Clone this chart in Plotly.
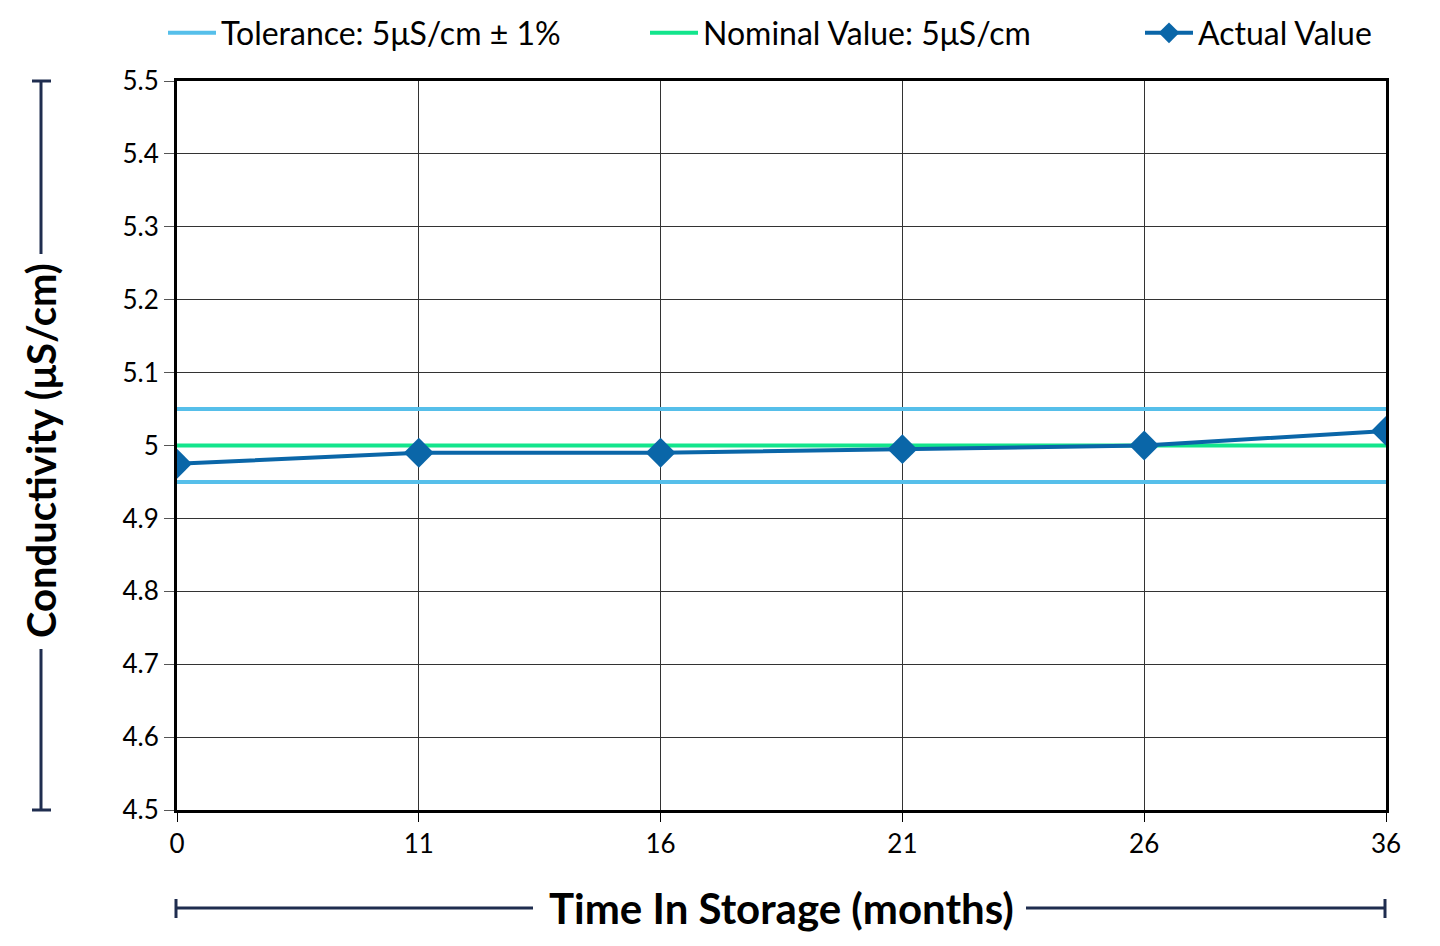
import plotly.graph_objects as go

# ---- data ----
months = ["0", "11", "16", "21", "26", "36"]
actual_values = [4.975, 4.99, 4.99, 4.995, 5.0, 5.02]
nominal_value = 5.0
tolerance_upper = 5.05
tolerance_lower = 4.95
y_ticks = [4.5, 4.6, 4.7, 4.8, 4.9, 5.0, 5.1, 5.2, 5.3, 5.4, 5.5]
y_tick_labels = ["4.5", "4.6", "4.7", "4.8", "4.9", "5", "5.1", "5.2", "5.3", "5.4", "5.5"]

xpos = list(range(len(months)))
x_first, x_last = xpos[0], xpos[-1]

FONT = "Lato"
NAVY = "#1F2D4F"

# plot-area pixel geometry
L, R, T, B = 177, 1386, 81, 810
pw = R - L
ph = B - T
def xp(px):
    return (px - L) / pw
def yp(py):
    return (B - py) / ph

fig = go.Figure()
fig.add_trace(go.Scatter(
    x=[x_first, x_last, None, x_first, x_last],
    y=[tolerance_upper, tolerance_upper, None, tolerance_lower, tolerance_lower],
    mode="lines", line=dict(color="#56BFEA", width=4),
    name="Tolerance: 5μS/cm ± 1%", legend="legend"))
fig.add_trace(go.Scatter(
    x=[x_first, x_last], y=[nominal_value, nominal_value],
    mode="lines", line=dict(color="#12E58C", width=4),
    name="Nominal Value: 5μS/cm", legend="legend2"))
fig.add_trace(go.Scatter(
    x=xpos, y=actual_values, mode="lines+markers",
    line=dict(color="#0A66A8", width=4),
    marker=dict(symbol="diamond", size=23, color="#0A66A8"),
    name="Actual Value", legend="legend3"))

leg_common = dict(orientation="h", yanchor="middle", xanchor="left",
                  font=dict(size=32, family=FONT, color="black"),
                  itemwidth=48, bgcolor="rgba(0,0,0,0)", borderwidth=0)

fig.update_layout(
    width=1440, height=946,
    margin=dict(l=L, r=1440 - R, t=T, b=946 - B, autoexpand=False),
    paper_bgcolor="white", plot_bgcolor="white",
    font=dict(family=FONT, color="black"),
    showlegend=True,
    legend=dict(x=xp(163), y=yp(33), **leg_common),
    legend2=dict(x=xp(645), y=yp(33), **leg_common),
    legend3=dict(x=xp(1140), y=yp(33), **leg_common),
)

fig.update_xaxes(
    range=[x_first, x_last], tickvals=xpos, ticktext=months,
    showgrid=True, gridcolor="#333333", gridwidth=1,
    showline=True, linecolor="black", linewidth=3, mirror=True,
    ticks="outside", ticklen=9, tickcolor="black", tickwidth=1,
    tickfont=dict(size=26, family=FONT, color="black"), zeroline=False)
fig.update_yaxes(
    range=[y_ticks[0], y_ticks[-1]], tickvals=y_ticks, ticktext=y_tick_labels,
    showgrid=True, gridcolor="#333333", gridwidth=1,
    showline=True, linecolor="black", linewidth=3, mirror=True,
    ticks="outside", ticklen=10, tickcolor="#555555", tickwidth=1,
    tickfont=dict(size=26, family=FONT, color="black"), zeroline=False)

fig.add_annotation(text="<b>Conductivity (μS/cm)</b>", xref="paper", yref="paper",
                   x=xp(41), y=yp(451), textangle=-90,
                   showarrow=False, font=dict(size=40, family=FONT, color="black"),
                   xanchor="center", yanchor="middle")
fig.add_annotation(text="<b>Time In Storage (months)</b>", xref="paper", yref="paper",
                   x=xp(781), y=yp(908), showarrow=False,
                   font=dict(size=42, family=FONT, color="black"),
                   xanchor="center", yanchor="middle")

line_style = dict(color=NAVY, width=3)
shapes = [
    dict(type="line", xref="paper", yref="paper", x0=xp(41), x1=xp(41), y0=yp(81), y1=yp(254), line=line_style),
    dict(type="line", xref="paper", yref="paper", x0=xp(41), x1=xp(41), y0=yp(649), y1=yp(810), line=line_style),
    dict(type="line", xref="paper", yref="paper", x0=xp(32), x1=xp(51), y0=yp(81), y1=yp(81), line=line_style),
    dict(type="line", xref="paper", yref="paper", x0=xp(32), x1=xp(51), y0=yp(810), y1=yp(810), line=line_style),
    dict(type="line", xref="paper", yref="paper", x0=xp(176), x1=xp(533), y0=yp(908), y1=yp(908), line=line_style),
    dict(type="line", xref="paper", yref="paper", x0=xp(1026), x1=xp(1385), y0=yp(908), y1=yp(908), line=line_style),
    dict(type="line", xref="paper", yref="paper", x0=xp(176), x1=xp(176), y0=yp(899), y1=yp(918), line=line_style),
    dict(type="line", xref="paper", yref="paper", x0=xp(1385), x1=xp(1385), y0=yp(899), y1=yp(918), line=line_style),
]
fig.update_layout(shapes=shapes)

fig.write_html("out.html")
